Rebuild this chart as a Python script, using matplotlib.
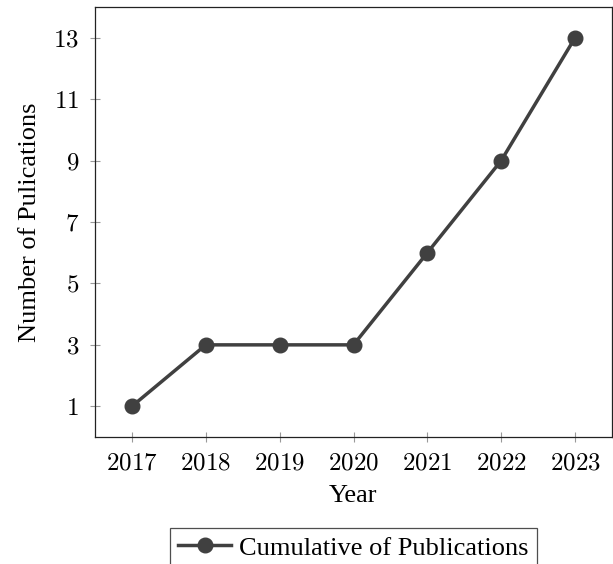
import matplotlib
matplotlib.use("Agg")
import matplotlib.pyplot as plt

years = [2017, 2018, 2019, 2020, 2021, 2022, 2023]
cumulative = [1, 3, 3, 3, 6, 9, 13]
yticks = [1, 3, 5, 7, 9, 11, 13]

plt.rcParams['font.family'] = ['Liberation Serif', 'DejaVu Serif']
plt.rcParams['mathtext.fontset'] = 'cm'

fig = plt.figure(figsize=(6.13, 5.64), dpi=100)
ax = fig.add_axes([95/613, 1-437/564, (612-95)/613, (437-7)/564])

color = '#404040'
ax.plot(years, cumulative, color=color, linewidth=2.5, marker='o', markersize=10.5,
        label='Cumulative of Publications')

ax.set_xlim(2016.5, 2023.5)
ax.set_ylim(0, 14)
ax.set_xticks(years)
ax.set_xticklabels([f'${y}$' for y in years], fontsize=18)
ax.set_yticks(yticks)
ax.set_yticklabels([f'${y}$' for y in yticks], fontsize=18)
ax.tick_params(direction='inout', length=7, width=0.8, color='#999999', pad=8)
for s in ax.spines.values():
    s.set_linewidth(0.9)
    s.set_color('#222222')

ax.set_xlabel('Year', fontsize=19, labelpad=7)
ax.set_ylabel('Number of Pulications', fontsize=19, labelpad=9)

leg = ax.legend(loc='upper center', bbox_to_anchor=(0.5, -0.212), fontsize=19,
                frameon=True, fancybox=False, edgecolor='#222222', borderaxespad=0,
                handlelength=2.0, borderpad=0.3, handletextpad=0.3)
leg.get_frame().set_linewidth(0.9)

fig.savefig('out.png', dpi=100)
